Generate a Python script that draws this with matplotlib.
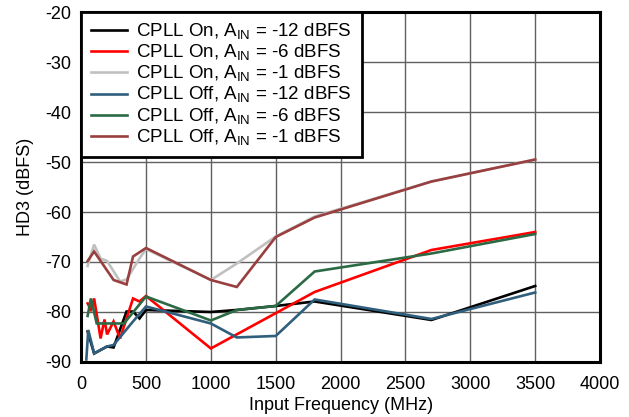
import matplotlib.pyplot as plt

plt.rcParams['font.family'] = ['Liberation Sans', 'DejaVu Sans']
plt.rcParams['mathtext.fontset'] = 'custom'
plt.rcParams['mathtext.rm'] = 'Liberation Sans'
plt.rcParams['axes.unicode_minus'] = False

# === Data (input freq in MHz, HD3 in dBFS) ===
on_m12_freq = [50, 100, 150, 200, 250, 350, 400, 450, 500, 1000, 1200, 1500, 1800, 2700, 3500]
on_m12_hd3 = [-83.9, -88.3, -87.6, -86.9, -87.1, -79.9, -79.9, -81.3, -79.6, -80.0, -79.6, -78.8, -77.9, -81.6, -74.8]

on_m6_freq = [50, 75, 100, 150, 180, 200, 250, 300, 400, 450, 500, 1000, 1800, 2700, 3500]
on_m6_hd3 = [-78.3, -79.5, -77.3, -85.3, -81.5, -84.5, -81.9, -85.3, -77.3, -77.9, -76.8, -87.3, -76.0, -67.6, -64.0]

on_m1_freq = [50, 100, 150, 200, 300, 350, 450, 500, 1000, 1200, 1500, 1800, 2700, 3500]
on_m1_hd3 = [-70.8, -66.5, -69.3, -69.8, -73.9, -73.5, -69.3, -67.4, -73.6, -70.3, -64.9, -60.9, -53.9, -49.5]

off_m12_freq = [40, 55, 100, 150, 200, 250, 400, 500, 1000, 1200, 1500, 1800, 2700, 3500]
off_m12_hd3 = [-89.5, -83.6, -88.3, -87.6, -86.9, -86.6, -81.9, -78.9, -82.3, -85.1, -84.8, -77.5, -81.4, -76.1]

off_m6_freq = [50, 75, 120, 330, 500, 1000, 1200, 1500, 1800, 2700, 3500]
off_m6_hd3 = [-80.8, -77.3, -82.3, -82.3, -76.9, -81.7, -79.6, -78.8, -71.9, -68.3, -64.4]

off_m1_freq = [50, 100, 250, 350, 400, 500, 1000, 1200, 1500, 1800, 2700, 3500]
off_m1_hd3 = [-69.8, -67.9, -73.6, -74.5, -68.9, -67.2, -73.6, -75.0, -65.0, -61.1, -53.9, -49.5]

series = [
    (on_m12_freq, on_m12_hd3, '#000000', r'CPLL On, A$_\mathregular{IN}$ = -12 dBFS'),
    (on_m6_freq, on_m6_hd3, '#ff0000', r'CPLL On, A$_\mathregular{IN}$ = -6 dBFS'),
    (on_m1_freq, on_m1_hd3, '#c0c0c0', r'CPLL On, A$_\mathregular{IN}$ = -1 dBFS'),
    (off_m12_freq, off_m12_hd3, '#2f5f7c', r'CPLL Off, A$_\mathregular{IN}$ = -12 dBFS'),
    (off_m6_freq, off_m6_hd3, '#2b6a45', r'CPLL Off, A$_\mathregular{IN}$ = -6 dBFS'),
    (off_m1_freq, off_m1_hd3, '#9a3f3f', r'CPLL Off, A$_\mathregular{IN}$ = -1 dBFS'),
]

fig = plt.figure(figsize=(6.29, 4.17), dpi=100)
ax = fig.add_axes([0.129, 0.132, 0.825, 0.839])

for f, v, c, lab in series:
    ax.plot(f, v, color=c, lw=1.9, label=lab, solid_joinstyle='miter')

ax.set_xlim(0, 4000)
ax.set_ylim(-90, -20)
ax.set_xticks(range(0, 4001, 500))
ax.set_yticks(range(-90, -19, 10))
ax.grid(True, color='#606060', lw=1.0)
ax.set_axisbelow(True)
for s in ax.spines.values():
    s.set_linewidth(2.2)
ax.tick_params(labelsize=13, length=0)
ax.tick_params(axis='x', pad=10)
ax.tick_params(axis='y', pad=7)
ax.set_xlabel('Input Frequency (MHz)', fontsize=13, labelpad=3)
ax.set_ylabel('HD3 (dBFS)', fontsize=13, labelpad=8)

leg = ax.legend(loc='upper left', fontsize=13.5, handlelength=1.95, handletextpad=0.5,
                borderaxespad=0, labelspacing=0.05, fancybox=False, framealpha=1,
                borderpad=0.5)
leg.get_frame().set_edgecolor('black')
leg.get_frame().set_linewidth(2.0)

fig.savefig('out.png', dpi=100)
